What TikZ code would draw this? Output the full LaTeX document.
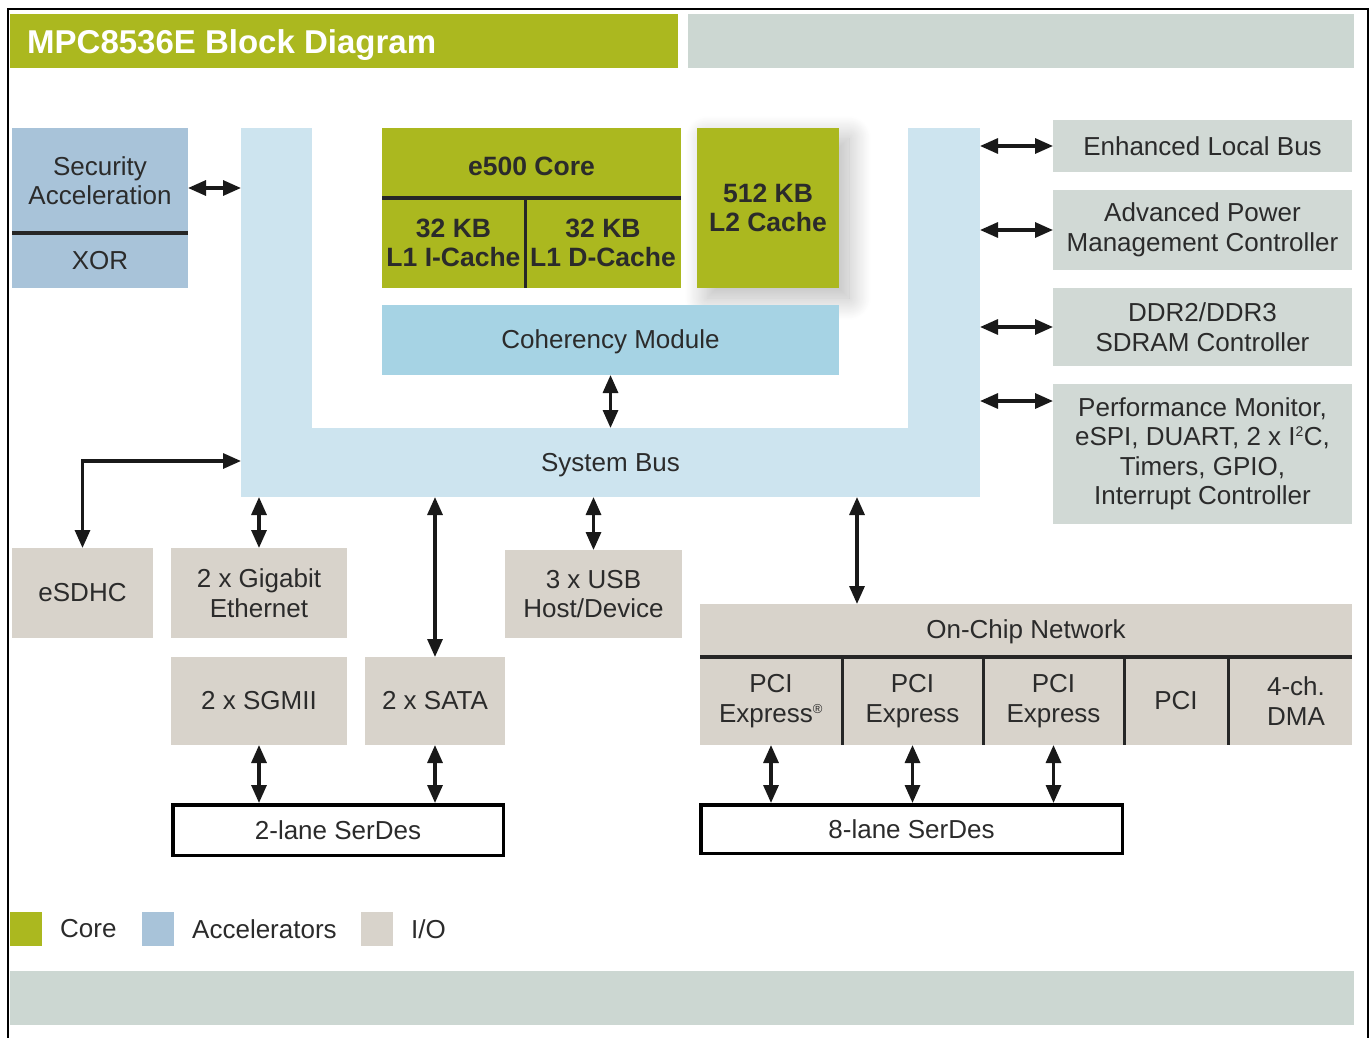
\documentclass[tikz,border=0pt]{standalone}
\usepackage{fontspec}
\setmainfont{Liberation Sans}
\usetikzlibrary{arrows.meta,shadows.blur}
\definecolor{coregreen}{HTML}{ABB81F}
\definecolor{bargray}{HTML}{CCD7D2}
\definecolor{accblue}{HTML}{A8C3D9}
\definecolor{buslight}{HTML}{CDE4EF}
\definecolor{cohblue}{HTML}{A6D3E4}
\definecolor{periph}{HTML}{D1D9D5}
\definecolor{iobeige}{HTML}{D8D3CB}
\definecolor{txt}{HTML}{2B2B2B}
\tikzset{
  blk/.style={rectangle, inner sep=0pt, outer sep=0pt, align=center, text=txt,
    font=\fontsize{26}{29.5}\selectfont},
  corebox/.style={blk, fill=coregreen, font=\fontsize{26.5}{29.5}\selectfont\bfseries},
  accbox/.style={blk, fill=accblue},
  busbox/.style={blk, fill=buslight},
  perbox/.style={blk, fill=periph},
  iobox/.style={blk, fill=iobeige},
  serdes/.style={blk, fill=white, draw=black, line width=3.5pt, outer sep=1.75pt},
  divider/.style={line width=4pt, draw=black!85},
  vsep/.style={line width=3pt, draw=black!85},
  conn/.style={line width=3.2pt, draw=black!90,
    {Triangle[length=18pt,width=15pt]}-{Triangle[length=18pt,width=15pt]}},
  legsq/.style={rectangle, inner sep=0pt, minimum width=32pt, minimum height=34pt},
  legtxt/.style={anchor=west, inner sep=0pt, text=txt, font=\fontsize{26}{29.5}\selectfont},
}
\begin{document}
\begin{tikzpicture}[x=1pt,y=-1pt]
\useasboundingbox (0,0) rectangle (1370,1038);
% frame
\draw[line width=2.5pt] (8,1040) -- (8,9) -- (1368,9) -- (1368,1040);
% bars
\node[blk, fill=coregreen, minimum width=668pt, minimum height=54pt] (titlebar) at (344,41) {};
\node[anchor=base west, inner sep=0pt, text=white, font=\fontsize{33}{38}\selectfont\bfseries] (titletext) at (27,54) {MPC8536E Block Diagram};
\node[blk, fill=bargray, minimum width=666pt, minimum height=54pt] (topbar) at (1021,41) {};
\node[blk, fill=bargray, minimum width=1344pt, minimum height=54pt] (botbar) at (682,998) {};
% system bus (U shape)
\node[busbox, minimum width=71pt, minimum height=369pt] (busleft) at (276.5,312.5) {};
\node[busbox, minimum width=72pt, minimum height=369pt] (busright) at (944,312.5) {};
\node[busbox, minimum width=739pt, minimum height=69pt] (busbottom) at (610.5,462.5) {};
\node[blk] (bustext) at (610.5,465) {System Bus};
% security
\node[accbox, minimum width=176pt, minimum height=105pt] (secacc) at (100,180.5) {Security\\Acceleration};
\node[accbox, minimum width=176pt, minimum height=55pt] (xor) at (100,260.5) {XOR};
\draw[divider] (secacc.south west) -- (secacc.south east);
% core
\node[corebox, minimum width=299pt, minimum height=70pt] (coretop) at (531.5,163) {};
\node[blk, font=\fontsize{26.5}{29.5}\selectfont\bfseries] (coretext) at (531.5,166) {e500 Core};
\node[corebox, minimum width=143pt, minimum height=90pt] (l1i) at (453.5,243) {32 KB\\L1 I-Cache};
\node[corebox, minimum width=156pt, minimum height=90pt] (l1d) at (603,243) {32 KB\\L1 D-Cache};
\draw[divider] (coretop.south west) -- (coretop.south east);
\draw[vsep] (l1i.north east) -- (l1i.south east);
\node[corebox, minimum width=142pt, minimum height=160pt,
  blur shadow={shadow xshift=10pt, shadow yshift=-10pt, shadow blur radius=22pt,
    shadow blur steps=25, shadow opacity=28}] (l2) at (768,208) {512 KB\\L2 Cache};
\node[blk, fill=cohblue, minimum width=457pt, minimum height=70pt] (coh) at (610.5,340) {};
\node[blk] (cohtext) at (610.5,342) {Coherency Module};
% right peripherals
\node[perbox, minimum width=299pt, minimum height=52pt] (elb) at (1202.5,146) {Enhanced Local Bus};
\node[perbox, minimum width=299pt, minimum height=80pt] (apmc) at (1202.5,230) {Advanced Power\\Management Controller};
\node[perbox, minimum width=299pt, minimum height=78pt] (ddr) at (1202.5,327) {DDR2/DDR3\\SDRAM Controller};
\node[perbox, minimum width=299pt, minimum height=140pt] (perf) at (1202.5,454) {Performance Monitor,\\eSPI, DUART, 2 x I\textsuperscript{\fontsize{14}{14}\selectfont 2}C,\\Timers, GPIO,\\Interrupt Controller};
% I/O left
\node[iobox, minimum width=141pt, minimum height=90pt] (esdhc) at (82.5,593) {eSDHC};
\node[iobox, minimum width=176pt, minimum height=90pt] (gige) at (259,593) {2 x Gigabit\\Ethernet};
\node[iobox, minimum width=176pt, minimum height=88pt] (sgmii) at (259,701) {2 x SGMII};
\node[iobox, minimum width=140pt, minimum height=88pt] (sata) at (435,701) {2 x SATA};
\node[iobox, minimum width=177pt, minimum height=88pt] (usb) at (593.5,594) {3 x USB\\Host/Device};
\node[serdes, minimum width=330.5pt, minimum height=50.5pt] (serdes2) at (338,830) {2-lane SerDes};
% on-chip network
\node[iobox, minimum width=652pt, minimum height=53pt] (ocn) at (1026,630.5) {};
\node[blk] (ocntext) at (1026,632) {On-Chip Network};
\node[iobox, minimum width=142pt, minimum height=88pt] (pcie1) at (771,701) {PCI\\Express\textsuperscript{\fontsize{13}{13}\selectfont ®}};
\node[iobox, minimum width=141pt, minimum height=88pt] (pcie2) at (912.5,701) {PCI\\Express};
\node[iobox, minimum width=141pt, minimum height=88pt] (pcie3) at (1053.5,701) {PCI\\Express};
\node[iobox, minimum width=104pt, minimum height=88pt] (pci) at (1176,701) {PCI};
\node[iobox, minimum width=124pt, minimum height=88pt] (dma) at (1290,701) {\hspace*{12pt}4-ch.\\\hspace*{12pt}DMA};
\draw[divider] (ocn.south west) -- (ocn.south east);
\draw[vsep] (pcie1.north east) -- (pcie1.south east);
\draw[vsep] (pcie2.north east) -- (pcie2.south east);
\draw[vsep] (pcie3.north east) -- (pcie3.south east);
\draw[vsep] (pci.north east) -- (pci.south east);
\node[serdes, minimum width=421.5pt, minimum height=48.5pt] (serdes8) at (911.5,829) {8-lane SerDes};
% legend
\node[legsq, fill=coregreen] (legcore) at (26,929) {};
\node[legtxt] (legcoret) at (60,929) {Core};
\node[legsq, fill=accblue] (legacc) at (157.5,929) {};
\node[legtxt] (legacct) at (192,929) {Accelerators};
\node[legsq, fill=iobeige] (legio) at (377,929) {};
\node[legtxt] (legiot) at (411,929) {I/O};
% helper coordinates
\coordinate (secy) at (0,188);
\coordinate (esdy) at (0,461);
\coordinate (perfy) at (0,401);
\coordinate (ocnx) at (857,0);
% connectors
\draw[conn] (secacc.east |- secy) -- (busleft.west |- secy);
\draw[conn] (busright.east |- elb.west) -- (elb.west);
\draw[conn] (busright.east |- apmc.west) -- (apmc.west);
\draw[conn] (busright.east |- ddr.west) -- (ddr.west);
\draw[conn] (busright.east |- perfy) -- (perf.west |- perfy);
\draw[conn] (coh.south) -- (coh.south |- busbottom.north);
\draw[conn] (busleft.west |- esdy) -| (esdhc.north);
\draw[conn] (gige.north |- busbottom.south) -- (gige.north);
\draw[conn] (sata.north |- busbottom.south) -- (sata.north);
\draw[conn] (usb.north |- busbottom.south) -- (usb.north);
\draw[conn] (busbottom.south -| ocnx) -- (ocn.north -| ocnx);
\draw[conn] (sgmii.south) -- (sgmii.south |- serdes2.north);
\draw[conn] (sata.south) -- (sata.south |- serdes2.north);
\draw[conn] (pcie1.south) -- (pcie1.south |- serdes8.north);
\draw[conn] (pcie2.south) -- (pcie2.south |- serdes8.north);
\draw[conn] (pcie3.south) -- (pcie3.south |- serdes8.north);
\end{tikzpicture}
\end{document}
